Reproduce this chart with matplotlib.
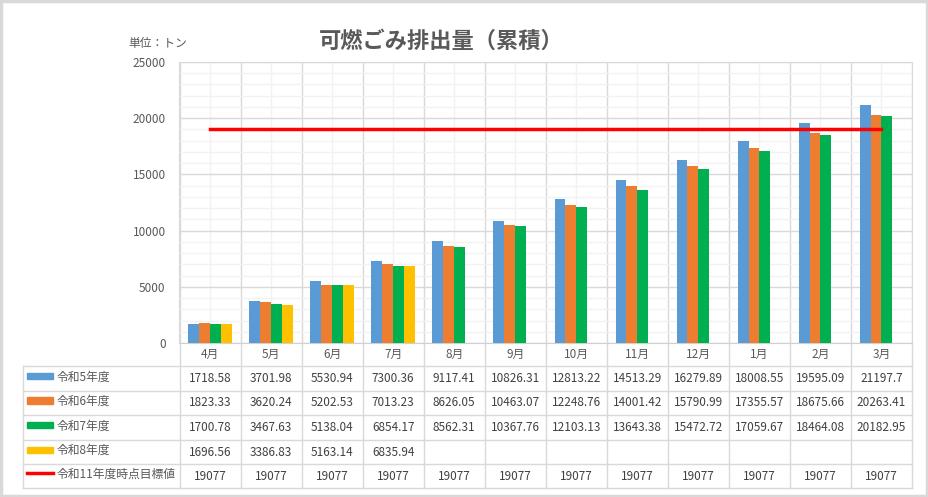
import matplotlib
matplotlib.use("Agg")
import matplotlib.pyplot as plt
import matplotlib.transforms as mtransforms
from matplotlib.lines import Line2D
from matplotlib.patches import Rectangle
import numpy as np

plt.rcParams['font.family'] = ['Noto Sans CJK JP', 'DejaVu Sans']

months = ["4月", "5月", "6月", "7月", "8月", "9月", "10月", "11月", "12月", "1月", "2月", "3月"]
r5 = [1718.58, 3701.98, 5530.94, 7300.36, 9117.41, 10826.31, 12813.22, 14513.29, 16279.89, 18008.55, 19595.09, 21197.7]
r6 = [1823.33, 3620.24, 5202.53, 7013.23, 8626.05, 10463.07, 12248.76, 14001.42, 15790.99, 17355.57, 18675.66, 20263.41]
r7 = [1700.78, 3467.63, 5138.04, 6854.17, 8562.31, 10367.76, 12103.13, 13643.38, 15472.72, 17059.67, 18464.08, 20182.95]
r8 = [1696.56, 3386.83, 5163.14, 6835.94]
target = [19077] * 12

series_names = ["令和5年度", "令和6年度", "令和7年度", "令和8年度"]
series_vals = [r5, r6, r7, r8]
series_colors = ["#5B9BD5", "#ED7D31", "#00B050", "#FFC000"]
target_name = "令和11年度時点目標値"
target_color = "#FF0000"

W, H = 929, 497
def fx(px): return px / W
def fy(py): return 1 - py / H

txt = "#595959"
grid_major = "#D9D9D9"
grid_minor = "#F2F2F2"

fig = plt.figure(figsize=(W / 100, H / 100), dpi=100)
ax = fig.add_axes([fx(179.5), fy(343), fx(912) - fx(179.5), fy(62) - fy(343)])

x = np.arange(len(months))
bw = 0.178
for i, (vals, col) in enumerate(zip(series_vals, series_colors)):
    xs = x[:len(vals)] + (i - 1.5) * bw
    ax.bar(xs, vals, width=bw, color=col, zorder=3)
ax.plot(x, target, color=target_color, lw=2.5, zorder=4)

ax.set_xlim(-0.5, len(months) - 0.5)
ax.set_ylim(0, 25000)
ax.set_yticks(np.arange(0, 25001, 5000))
ax.set_yticks(np.arange(0, 25001, 1000), minor=True)
ax.set_xticks(np.arange(-0.5, len(months), 1))
ax.set_xticks(x, minor=True)
ax.set_xticklabels([])
ax.grid(which='major', color=grid_major, lw=1, zorder=0)
ax.grid(which='minor', color=grid_minor, lw=1, zorder=0)
ax.tick_params(which='both', length=0)
ax.tick_params(axis='y', labelsize=8.5, labelcolor=txt, pad=10)
for s in ax.spines.values():
    s.set_color(grid_major)
ax.spines['bottom'].set_color("#D0D0D0")

fig.text(fx(441), fy(41), "可燃ごみ排出量（累積）", fontsize=16, fontweight='bold',
         color=txt, ha='center', va='center')
fig.text(fx(158), fy(44), "単位：トン", fontsize=8.5, color=txt, ha='center', va='center')

# data table under the chart
tr = mtransforms.blended_transform_factory(ax.transData, fig.transFigure)
rows_y = [366, 390.7, 415.3, 440, 464.3, 488]
left_px = 23
right_px = 912

for yy in rows_y:
    fig.add_artist(Line2D([fx(left_px), fx(right_px)], [fy(yy), fy(yy)], color=grid_major, lw=1))
fig.add_artist(Line2D([fx(left_px), fx(left_px)], [fy(366), fy(488)], color=grid_major, lw=1))
for b in np.arange(-0.5, len(months), 1):
    ax.add_line(Line2D([b, b], [fy(343), fy(488)], transform=tr, color=grid_major, lw=1, clip_on=False))

for i, m in enumerate(months):
    ax.text(i, fy(354.5), m, transform=tr, ha='center', va='center', fontsize=8.5, color=txt, clip_on=False)

labels = series_names + [target_name]
all_vals = series_vals + [target]
for r, (lab, vals) in enumerate(zip(labels, all_vals)):
    yc = (rows_y[r] + rows_y[r + 1]) / 2
    if r < 4:
        fig.add_artist(Rectangle((fx(27), fy(yc + 0.5)), fx(53) - fx(27), fy(yc - 5.5) - fy(yc + 0.5),
                                 color=series_colors[r], transform=fig.transFigure))
    else:
        fig.add_artist(Line2D([fx(27), fx(53)], [fy(yc - 3.5), fy(yc - 3.5)], color=target_color, lw=2.5))
    fig.text(fx(57), fy(yc - 1.5), lab, fontsize=8.5, color=txt, ha='left', va='center')
    for i, v in enumerate(vals):
        ax.text(i, fy(yc), str(v), transform=tr, ha='center', va='center', fontsize=8.5,
                color="#404040", clip_on=False)

fig.add_artist(Rectangle((0.001, 0.002), 0.997, 0.995, fill=False, edgecolor="#D9D9D9", lw=2.5,
                         transform=fig.transFigure))

fig.savefig("out.png", dpi=100)
